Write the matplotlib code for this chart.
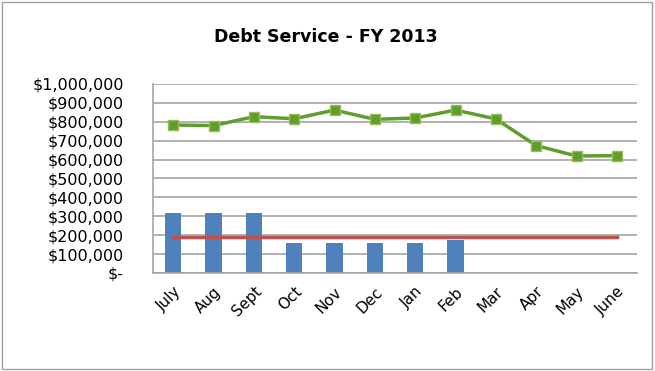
import matplotlib.pyplot as plt
import numpy as np
from matplotlib.patches import Rectangle

months = ['July', 'Aug', 'Sept', 'Oct', 'Nov', 'Dec', 'Jan', 'Feb', 'Mar', 'Apr', 'May', 'June']
paid = [319000, 319000, 319000, 160000, 160000, 160000, 160000, 175000]
balance = [783000, 780000, 827000, 816000, 862000, 813000, 820000, 862000, 815000, 674000, 619000, 621000]
budget = [192000] * 12

fig = plt.figure(figsize=(6.55, 3.71), dpi=100)
ax = fig.add_axes([0.2336, 0.2642, 0.739, 0.5094])

x = np.arange(len(months))
ax.bar(x[:len(paid)], paid, width=0.4, color='#4f81bd', zorder=2)
ax.plot(x, budget, color='#c0504d', lw=2.5, zorder=3)
ax.plot(x, balance, color='#5e9e2a', lw=2.5, marker='s', ms=7.5,
        mfc='#5e9e2a', mec='#9bbb59', mew=1, zorder=4)

ax.set_xlim(-0.5, 11.5)
ax.set_ylim(0, 1000000)
yt = np.arange(0, 1000001, 100000)
ax.set_yticks(yt)
ax.set_yticklabels(['$-' if v == 0 else '${:,.0f}'.format(v) for v in yt], fontsize=11.5)
ax.set_xticks(x)
ax.set_xticklabels(months, rotation=45, ha='right', rotation_mode='anchor', fontsize=11)
ax.tick_params(axis='y', length=0, pad=21)
ax.tick_params(axis='x', length=0, pad=8)
ax.yaxis.grid(True, color='#a6a6a6', lw=1.2, zorder=0)
ax.set_axisbelow(True)
for s in ['top', 'right']:
    ax.spines[s].set_visible(False)
for s in ['left', 'bottom']:
    ax.spines[s].set_color('#a6a6a6')
    ax.spines[s].set_linewidth(1.2)

fig.text(0.497, 0.9, 'Debt Service - FY 2013', ha='center', va='center',
         fontsize=12.5, fontweight='bold')
fig.patches.append(Rectangle((0.003, 0.005), 0.993, 0.99, transform=fig.transFigure,
                             fill=False, edgecolor='#a0a0a0', lw=1))

fig.savefig('out.png', dpi=100)
